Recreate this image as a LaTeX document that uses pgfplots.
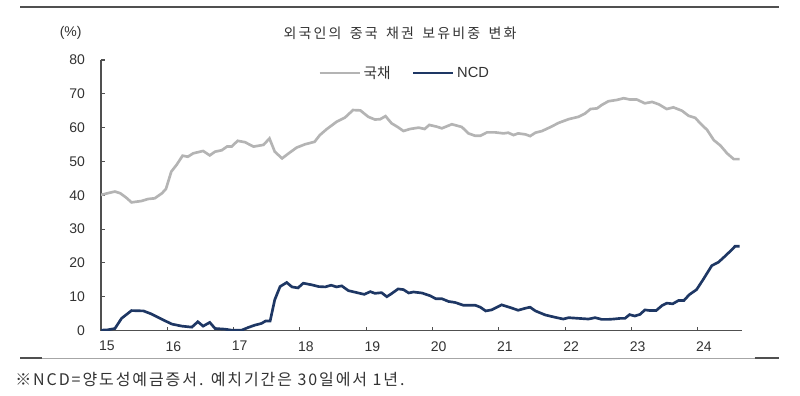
\documentclass[border=0pt]{standalone}
\usepackage{fontspec}
\setmainfont{Liberation Sans}
\newfontfamily\kr{Noto Sans CJK KR}
\newfontfamily\krt[LetterSpace=15]{Noto Sans CJK KR}
\newfontfamily\krf[LetterSpace=12]{Noto Sans CJK KR}
\usepackage{pgfplots}
\pgfplotsset{compat=1.18}
\definecolor{gov}{RGB}{180,180,180}
\definecolor{ncd}{RGB}{30,55,100}
\definecolor{axc}{RGB}{80,80,80}
\definecolor{txt}{RGB}{50,50,50}

\begin{document}
\begin{tikzpicture}
\path[use as bounding box] (0,0) rectangle (600pt,297pt);
\draw[axc, line width=1pt] (15pt,291.75pt) -- (584.25pt,291.75pt);
\draw[gray!70, line width=0.6pt] (15pt,28.5pt) -- (584.25pt,28.5pt);
\draw[axc, line width=1pt] (15pt,28.5pt) -- (31.5pt,28.5pt);
\draw[axc, line width=1pt] (566pt,28.5pt) -- (584.25pt,28.5pt);
\node[font=\krt\fontsize{10.5}{12}\selectfont, text=txt] at (300pt,272.25pt) {외국인의\hspace{0.6em}중국\hspace{0.6em}채권\hspace{0.6em}보유비중\hspace{0.6em}변화};
\node[font=\fontsize{10.5}{12}\selectfont, text=txt] at (53pt,272.25pt) {(\%)};
\node[font=\krf\fontsize{12}{14}\selectfont, text=txt, anchor=west, inner sep=0pt] at (11.25pt,12pt) {※NCD=양도성예금증서. 예치기간은 30일에서 1년.};
\begin{axis}[
 at={(75.75pt,49.1pt)}, anchor=south west,
 scale only axis, width=480.5pt, height=202.9pt,
 xmin=15, xmax=24.66, ymin=0, ymax=80,
 axis lines*=left,
 axis line style={axc, line width=0.8pt},
 xtick={15,...,24}, ytick={0,10,...,80},
 tick align=inside, major tick length=3pt,
 tick style={axc, line width=0.8pt},
 ticklabel style={font=\fontsize{10.5}{12}\selectfont, text=txt},
 /pgf/number format/assume math mode=true,
 xticklabel style={xshift=4.5pt, yshift=-4.5pt},
 yticklabel style={xshift=-8.5pt},
 legend style={at={(0.3387,0.952)}, anchor=west, draw=none, fill=none,
   legend columns=2, inner sep=0pt, font=\fontsize{11}{13}\selectfont, text=txt,
   /tikz/every even column/.append style={column sep=14pt}},
 legend image code/.code={\draw[#1] (0pt,0pt) -- (30pt,0pt);},
]
\addplot[gov, line width=2pt] coordinates {
(15.00,40.1) (15.10,40.6) (15.21,41.1) (15.29,40.6) (15.38,39.3) (15.46,37.9)
(15.61,38.3) (15.71,38.9) (15.81,39.1) (15.92,40.6) (15.98,41.9) (16.06,47.0)
(16.14,49.0) (16.23,51.7) (16.31,51.4) (16.39,52.4) (16.54,53.1) (16.64,51.8)
(16.72,52.9) (16.82,53.3) (16.90,54.4) (16.97,54.4) (17.06,56.1) (17.17,55.7)
(17.30,54.4) (17.45,54.9) (17.54,56.8) (17.62,52.9) (17.73,50.9) (17.83,52.4)
(17.95,54.1) (18.08,55.1) (18.22,55.8) (18.30,57.8) (18.40,59.5) (18.55,61.7)
(18.68,63.0) (18.80,65.2) (18.91,65.1) (19.03,63.2) (19.13,62.4) (19.21,62.5)
(19.29,63.4) (19.38,61.3) (19.48,60.1) (19.56,59.0) (19.66,59.6) (19.79,60.0)
(19.88,59.6) (19.95,60.8) (20.06,60.3) (20.14,59.8) (20.29,61.0) (20.44,60.2)
(20.54,58.3) (20.64,57.6) (20.72,57.6) (20.82,58.6) (20.94,58.6) (21.07,58.3)
(21.14,58.5) (21.22,57.8) (21.29,58.3) (21.40,58.0) (21.47,57.5) (21.55,58.5)
(21.65,59.0) (21.77,60.1) (21.90,61.4) (22.05,62.5) (22.20,63.2) (22.30,64.2)
(22.38,65.5) (22.48,65.7) (22.55,66.7) (22.65,67.8) (22.78,68.2) (22.88,68.7)
(22.98,68.3) (23.08,68.3) (23.20,67.2) (23.31,67.6) (23.41,66.9) (23.53,65.5)
(23.63,66.0) (23.76,65.0) (23.86,63.5) (23.96,62.9) (24.03,61.4) (24.14,59.3)
(24.24,56.3) (24.34,54.7) (24.44,52.4) (24.54,50.7) (24.63,50.7)
};
\addlegendentry{\kr 국채}
\addplot[ncd, line width=2pt] coordinates {
(15.00,0.1) (15.10,0.2) (15.21,0.6) (15.31,3.6) (15.46,5.9) (15.64,5.8)
(15.76,4.9) (15.92,3.3) (16.07,1.9) (16.22,1.3) (16.37,1.0) (16.46,2.6)
(16.54,1.3) (16.64,2.4) (16.72,0.6) (16.87,0.4) (16.97,0.1) (17.12,0.1)
(17.22,0.9) (17.32,1.6) (17.42,2.1) (17.48,2.8) (17.55,2.8) (17.62,9.1)
(17.70,13.0) (17.80,14.2) (17.88,12.9) (17.97,12.6) (18.05,14.0) (18.18,13.5)
(18.28,13.0) (18.38,12.9) (18.47,13.4) (18.55,12.9) (18.63,13.2) (18.73,11.8)
(18.86,11.2) (18.97,10.7) (19.06,11.5) (19.13,11.0) (19.23,11.2) (19.31,10.0)
(19.38,10.9) (19.48,12.3) (19.56,12.1) (19.64,11.1) (19.71,11.4) (19.84,11.1)
(19.96,10.3) (20.05,9.4) (20.14,9.4) (20.24,8.6) (20.34,8.3) (20.46,7.5)
(20.64,7.5) (20.72,6.9) (20.80,5.8) (20.89,6.1) (21.04,7.6) (21.17,6.8)
(21.29,6.0) (21.40,6.6) (21.47,6.9) (21.55,5.8) (21.70,4.6) (21.85,3.9)
(21.97,3.4) (22.05,3.8) (22.20,3.6) (22.35,3.4) (22.45,3.8) (22.55,3.3)
(22.65,3.3) (22.73,3.4) (22.83,3.6) (22.90,3.6) (22.97,4.7) (23.05,4.3)
(23.13,4.8) (23.20,6.1) (23.28,5.9) (23.37,5.9) (23.46,7.4) (23.53,8.1)
(23.62,7.9) (23.71,8.9) (23.79,8.9) (23.87,10.6) (23.98,12.1) (24.08,15.1)
(24.21,19.2) (24.31,20.2) (24.41,22.0) (24.49,23.5) (24.56,24.9) (24.63,24.9)
};
\addlegendentry{NCD}
\end{axis}
\end{tikzpicture}
\end{document}
